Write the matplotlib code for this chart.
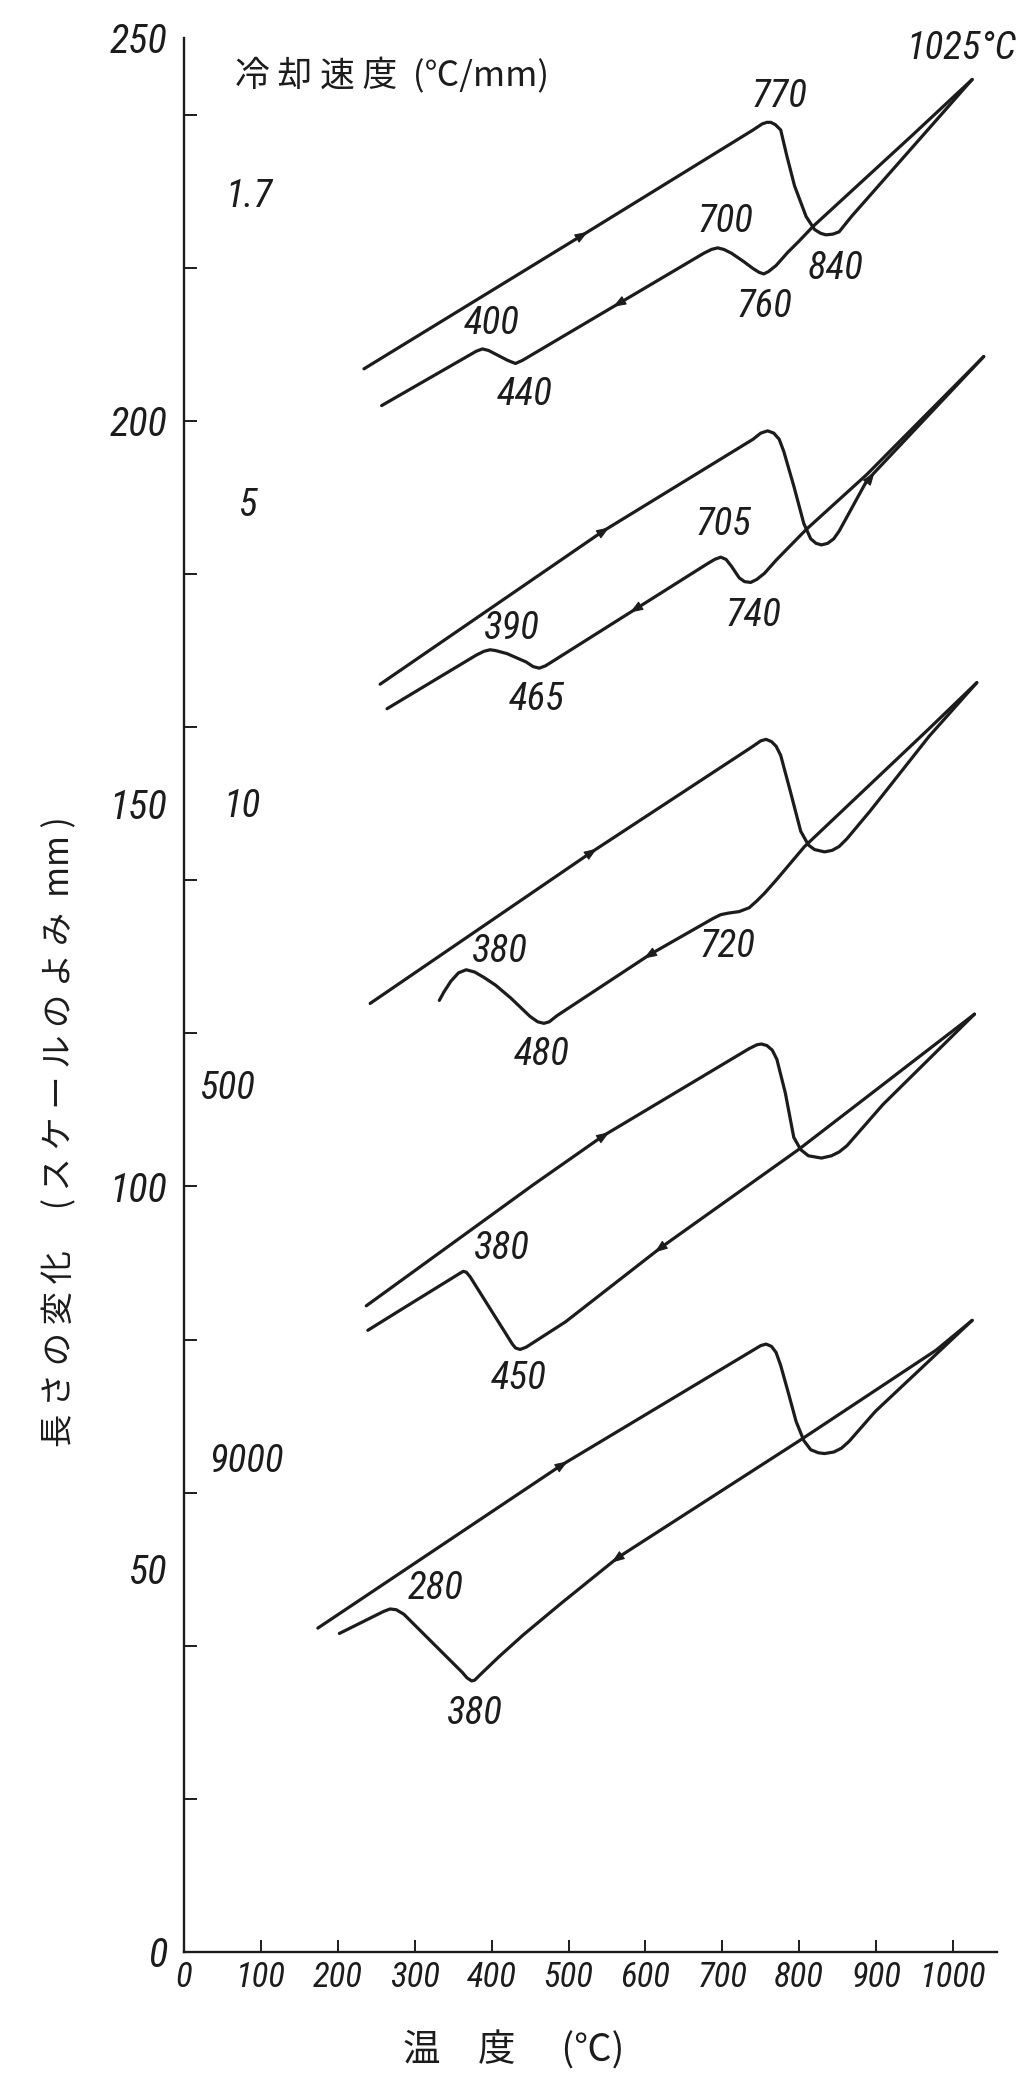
import numpy as np
import matplotlib.pyplot as plt
from matplotlib import font_manager
from matplotlib.font_manager import FontProperties

JP = ['Noto Sans CJK JP', 'DejaVu Sans']
INK = '#1c1c1c'


def pick_num_font():
    ents = font_manager.fontManager.ttflist
    for want in ('Liberation Sans Narrow', 'Roboto Condensed', 'Open Sans Condensed', 'DejaVu Sans Condensed'):
        for f in ents:
            if f.name == want and f.style in ('italic', 'oblique') and str(f.weight) in ('400', 'normal', 'regular', 'book'):
                return f.fname, True
    for f in ents:
        if f.style in ('italic', 'oblique') and 'condensed' in str(f.stretch) and str(f.weight) in ('400', 'normal', 'regular', 'book'):
            return f.fname, True
    for f in ents:
        if f.name == 'Liberation Sans' and f.style == 'italic' and str(f.weight) in ('400', 'normal', 'regular'):
            return f.fname, False
    return None, False


num_file, narrow = pick_num_font()


def num(size):
    if num_file:
        return FontProperties(fname=num_file, size=size)
    return FontProperties(family='DejaVu Sans', style='italic', size=size)


S_LAB, S_YT, S_XT = (28, 29, 25) if narrow else (23, 24, 21)

# temperature (C) / length change (scale reading, mm); heating = upper curve, cooling = lower curve
heat_17_t = [234, 517, 740, 752, 758, 763, 769, 776, 784, 794, 809, 820, 828, 835, 844, 852, 868, 1025]
heat_17_l = [206.8, 224.2, 238.0, 238.8, 239.0, 239.0, 238.7, 238.0, 234.6, 230.7, 226.7, 225.0, 224.5, 224.3, 224.4, 224.7, 226.7, 244.6]
cool_17_t = [1025, 947, 818, 800, 785, 770, 760, 754, 748, 740, 728, 712, 702, 694, 686, 676, 440, 431, 421, 396, 388, 380, 257]
cool_17_l = [244.6, 237.3, 225.4, 223.5, 222.0, 220.3, 219.5, 219.2, 219.4, 219.9, 220.8, 221.9, 222.4, 222.6, 222.4, 221.9, 207.9, 207.5, 207.9, 209.2, 209.4, 209.1, 202.0]

heat_5_t = [255, 545, 740, 750, 759, 767, 774, 780, 793, 806, 815, 822, 829, 837, 845, 852, 888, 1040]
heat_5_l = [165.6, 185.6, 197.6, 198.4, 198.7, 198.4, 197.6, 196.0, 191.5, 186.6, 184.6, 184.0, 183.8, 184.0, 184.6, 185.6, 192.2, 208.4]
cool_5_t = [1040, 888, 809, 770, 755, 745, 737, 729, 722, 712, 705, 698, 690, 680, 478, 470, 462, 454, 445, 420, 405, 398, 390, 380, 264]
cool_5_l = [208.4, 193.0, 185.8, 181.8, 180.1, 179.3, 178.9, 179.0, 179.5, 181.0, 181.9, 182.2, 181.9, 181.3, 168.5, 168.0, 167.7, 167.9, 168.5, 169.6, 170.0, 170.1, 169.9, 169.4, 162.4]

heat_10_t = [242, 529, 740, 750, 757, 764, 770, 776, 788, 802, 812, 820, 833, 843, 852, 862, 892, 969, 1031]
heat_10_l = [123.9, 143.6, 157.5, 158.2, 158.4, 158.1, 157.5, 156.3, 151.8, 146.4, 144.6, 144.0, 143.7, 143.9, 144.4, 145.4, 149.0, 158.8, 165.8]
cool_10_t = [1031, 969, 807, 770, 755, 745, 735, 722, 708, 698, 688, 606, 485, 475, 468, 460, 450, 425, 405, 390, 378, 367, 357, 347, 338, 332]
cool_10_l = [165.8, 159.8, 144.4, 140.0, 138.3, 137.3, 136.4, 135.9, 135.7, 135.5, 135.0, 130.3, 122.3, 121.5, 121.3, 121.5, 122.2, 124.6, 126.3, 127.3, 128.0, 128.3, 127.9, 126.8, 125.4, 124.3]

heat_500_t = [237, 454, 545, 735, 745, 751, 758, 765, 771, 782, 793, 802, 812, 829, 842, 852, 862, 909, 1028]
heat_500_l = [84.4, 100.2, 106.6, 118.0, 118.5, 118.6, 118.4, 117.8, 116.6, 112.2, 106.4, 104.8, 104.0, 103.7, 104.0, 104.5, 105.3, 110.7, 122.5]
cool_500_t = [1028, 799, 620, 496, 445, 437, 431, 427, 372, 367, 363, 358, 279, 239]
cool_500_l = [122.5, 104.8, 92.0, 82.3, 79.0, 78.7, 78.9, 79.4, 88.2, 88.8, 88.9, 88.6, 83.7, 81.2]

heat_9000_t = [174, 491, 740, 750, 757, 764, 770, 776, 786, 796, 806, 815, 825, 833, 845, 855, 865, 899, 1025]
heat_9000_l = [42.3, 63.6, 78.6, 79.2, 79.4, 79.1, 78.3, 76.6, 73.0, 69.3, 66.8, 65.6, 65.2, 65.1, 65.3, 65.8, 66.7, 70.6, 82.5]
cool_9000_t = [1025, 978, 799, 564, 490, 441, 410, 385, 378, 374, 368, 362, 286, 276, 268, 260, 202]
cool_9000_l = [82.5, 78.6, 66.7, 51.5, 45.5, 41.4, 38.6, 36.2, 35.5, 35.4, 35.8, 36.5, 44.1, 44.7, 44.8, 44.5, 41.6]

heat_marks = [517, 545, 529, 545, 491]
cool_marks = [566, 588, 606, 620, 564]

rate_labels = ['1.7', '5', '10', '500', '9000']
rate_t = [84, 83, 76, 57, 81]
rate_l = [229.3, 189.0, 149.6, 112.8, 64.0]

point_labels = ['770', '700', '760', '840', '400', '440',
                '705', '740', '390', '465',
                '720', '380', '480',
                '380', '450',
                '280', '380']
point_t = [775, 704, 755, 848, 400, 443,
           702, 741, 427, 458,
           707, 411, 465,
           413, 435,
           327, 378]
point_l = [242.4, 226.0, 215.0, 219.9, 212.7, 203.4,
           186.4, 174.6, 172.9, 163.6,
           131.3, 130.7, 117.2,
           91.9, 74.9,
           47.5, 31.2]

x_ticks = list(range(0, 1001, 100))
x_tick_labels = [str(v) for v in x_ticks]
y_ticks = list(range(0, 251, 50))
y_tick_labels = [str(v) for v in y_ticks]
y_minor = list(range(20, 250, 20))


fig = plt.figure(figsize=(10.34, 20.95), dpi=100)
ax = fig.add_axes([0.178, 0.0683, 0.786, 0.9135])
ax.set_xlim(0, 1057)
ax.set_ylim(0, 250)

for s in ('top', 'right'):
    ax.spines[s].set_visible(False)
for s in ('left', 'bottom'):
    ax.spines[s].set_linewidth(1.7)
    ax.spines[s].set_color(INK)

ax.set_xticks(x_ticks, labels=x_tick_labels, color=INK, fontproperties=num(S_XT))
ax.set_yticks(y_ticks, labels=y_tick_labels, color=INK, fontproperties=num(S_YT))
ax.set_yticks(y_minor, minor=True)
ax.yaxis.remove_overlapping_locs = False
ax.tick_params(axis='x', direction='in', length=9, width=1.4, pad=6, color=INK)
ax.tick_params(axis='y', which='major', length=0, pad=12)
ax.tick_params(axis='y', which='minor', direction='in', length=9, width=1.4, color=INK)

heats = [(heat_17_t, heat_17_l), (heat_5_t, heat_5_l), (heat_10_t, heat_10_l),
         (heat_500_t, heat_500_l), (heat_9000_t, heat_9000_l)]
cools = [(cool_17_t, cool_17_l), (cool_5_t, cool_5_l), (cool_10_t, cool_10_l),
         (cool_500_t, cool_500_l), (cool_9000_t, cool_9000_l)]

for t, l in heats + cools:
    ax.plot(t, l, color=INK, lw=2.3, solid_joinstyle='round', solid_capstyle='round')


def arrow_on(t, l, at, forward):
    order = np.argsort(t)
    ts = np.asarray(t, float)[order]
    ls = np.asarray(l, float)[order]
    d = 8
    a = (at - d, np.interp(at - d, ts, ls))
    b = (at + d, np.interp(at + d, ts, ls))
    tip, tail = (b, a) if forward else (a, b)
    ax.annotate('', xy=tip, xytext=tail,
                arrowprops=dict(arrowstyle='-|>,head_length=0.8,head_width=0.3',
                                mutation_scale=10, color=INK, lw=0.8,
                                shrinkA=0, shrinkB=0))


for (t, l), m in zip(heats, heat_marks):
    arrow_on(t, l, m, True)
for (t, l), m in zip(cools, cool_marks):
    arrow_on(t, l, m, False)
arrow_on(heat_5_t, heat_5_l, 890, True)

for s, t, l in zip(rate_labels, rate_t, rate_l):
    ax.text(t, l, s, ha='center', va='center', color=INK, fontproperties=num(S_LAB))
for s, t, l in zip(point_labels, point_t, point_l):
    ax.text(t, l, s, ha='center', va='center', color=INK, fontproperties=num(S_LAB))
ax.text(1083, 248.6, '1025°C', ha='right', va='center', color=INK, fontproperties=num(S_LAB))

ax.text(66, 245, '冷 却 速 度  (℃/mm)', ha='left', va='center',
        fontsize=25, color=INK, family=JP)

fig.text(0.058, 0.4597, '長 さ の 変 化\u3000 ( ス ケ ー ル の よ み  mm )', rotation=90,
         ha='center', va='center', fontsize=24, color=INK, family=JP)
fig.text(0.497, 0.021, '温\u3000度\u3000 (℃)', ha='center', va='center',
         fontsize=27, color=INK, family=JP)

fig.savefig('out.png', dpi=100, facecolor='white')
